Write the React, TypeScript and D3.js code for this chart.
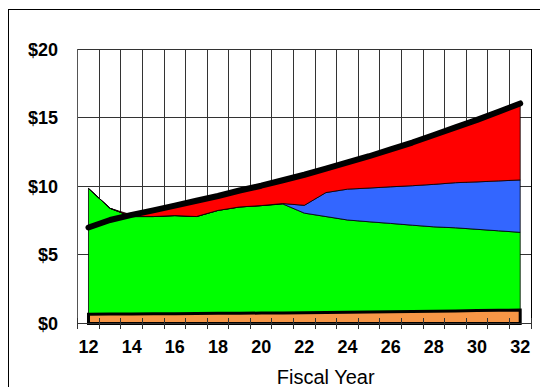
import * as d3 from 'd3';

// Fiscal years (category axis)
const years = d3.range(12, 33);
const yearLabels = years.filter(y => y % 2 === 0);

// Stacked layers (thickness of each band, $)
const orange = [0.68, 0.69, 0.70, 0.71, 0.72, 0.73, 0.74, 0.75, 0.76, 0.77, 0.79, 0.80, 0.82, 0.84, 0.86, 0.88, 0.90, 0.92, 0.94, 0.96, 0.98];
const green = [9.17, 7.71, 7.10, 7.09, 7.15, 7.07, 7.51, 7.75, 7.84, 7.95, 7.26, 7.00, 6.73, 6.58, 6.44, 6.29, 6.15, 6.06, 5.93, 5.80, 5.67];
const blue = [0, 0, 0, 0, 0, 0, 0, 0, 0, 0.03, 0.57, 1.75, 2.25, 2.46, 2.67, 2.88, 3.10, 3.29, 3.46, 3.64, 3.82];
const red = [0, 0, 0.12, 0.45, 0.73, 1.15, 1.05, 1.20, 1.45, 1.70, 2.23, 1.75, 1.95, 2.32, 2.73, 3.15, 3.60, 4.03, 4.52, 5.05, 5.58];

// Total line
const total = [7.0, 7.55, 7.92, 8.25, 8.6, 8.95, 9.3, 9.7, 10.05, 10.45, 10.85, 11.3, 11.75, 12.2, 12.7, 13.2, 13.75, 14.3, 14.85, 15.45, 16.05];

const yTicks = [0, 5, 10, 15, 20];

const W = 540;
const H = 387;
const left = 77.7, right = 531, top = 49.3, bottom = 323.5;

export default function App() {
    const x = d3.scaleBand<number>().domain(years).range([left, right]).padding(0);
    const y = d3.scaleLinear().domain([0, 20]).range([bottom, top]);
    const cx = (yr: number) => (x(yr) as number) + x.bandwidth() / 2;

    const table = years.map((yr, i) => ({
        year: yr, orange: orange[i], green: green[i], blue: blue[i], red: red[i]
    }));
    const keys = ['orange', 'green', 'blue', 'red'];
    const stacked = d3.stack<any>().keys(keys)(table);

    const area = d3.area<any>()
        .x(d => cx(d.data.year))
        .y0(d => y(d[0]))
        .y1(d => y(d[1]));

    const line = d3.line<number>()
        .x((d, i) => cx(years[i]))
        .y(d => y(d));

    const colors: Record<string, string> = {
        orange: '#F79646', green: '#00FF00', blue: '#3366FF', red: '#FF0000'
    };

    // category boundaries for grid and ticks
    const bounds = years.map(yr => x(yr) as number).concat([right]);

    return (
        <svg width={W} height={H} style={{ position: 'absolute', left: 0, top: 0 }}
            fontFamily="'Liberation Sans', Arial, sans-serif">
            <rect x={0} y={0} width={W} height={H} fill="#fff" />
            <rect x={8.5} y={9.5} width={700} height={600} fill="none" stroke="#000" strokeWidth={1} />

            {/* gridlines */}
            <g shapeRendering="crispEdges">
                {bounds.slice(1).map((b, i) => (
                    <line key={'v' + i} x1={b} x2={b} y1={top} y2={bottom} stroke="#333" strokeWidth={1} />
                ))}
                {yTicks.slice(1).map(t => (
                    <line key={'h' + t} x1={left} x2={right} y1={y(t)} y2={y(t)} stroke="#333" strokeWidth={1} />
                ))}
            </g>

            {/* stacked areas */}
            {stacked.slice(1).map(s => (
                <path key={s.key} d={area(s) as string} fill={colors[s.key]} stroke="#000" strokeWidth={0.8} strokeLinejoin="round" />
            ))}
            <path d={area(stacked[0]) as string} fill={colors.orange} stroke="#000" strokeWidth={3} />

            {/* total line */}
            <path d={line(total) as string} fill="none" stroke="#000" strokeWidth={6} strokeLinecap="round" strokeLinejoin="round" />

            {/* frame and axis */}
            <g shapeRendering="crispEdges">
                <line x1={left} x2={left} y1={top} y2={bottom} stroke="#555" />
                <line x1={right} x2={right} y1={top} y2={bottom} stroke="#000" />
                <line x1={left} x2={right} y1={bottom} y2={bottom} stroke="#333" />
                {bounds.map((b, i) => (
                    <line key={'t' + i} x1={b} x2={b} y1={bottom - 6} y2={bottom + 5} stroke="#333" />
                ))}
            </g>

            {yTicks.map(t => (
                <text key={'yl' + t} x={58} y={y(t)} dy="0.35em" textAnchor="end" fontSize={18} fontWeight="bold">${t}</text>
            ))}
            {yearLabels.map(yr => (
                <text key={'xl' + yr} x={cx(yr)} y={353.3} textAnchor="middle" fontSize={18} fontWeight="bold">{yr}</text>
            ))}
            <text x={325.7} y={384.3} textAnchor="middle" fontSize={20}>Fiscal Year</text>
        </svg>
    );
}
